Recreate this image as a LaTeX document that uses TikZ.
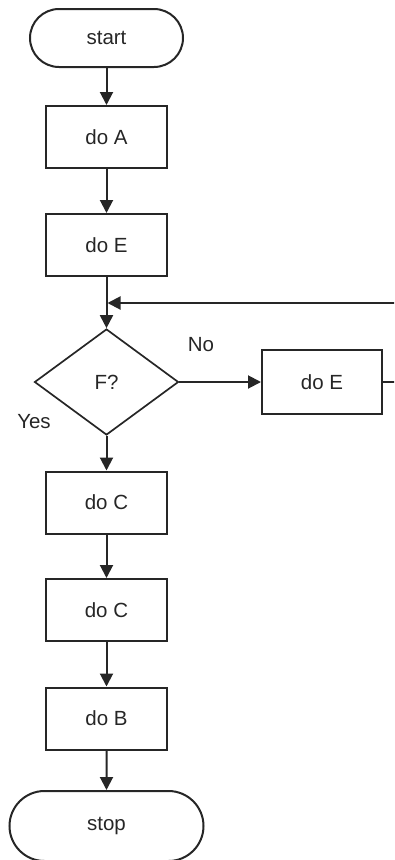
\documentclass[tikz,border=0pt]{standalone}
\usepackage{fontspec}
\setmainfont{Liberation Sans}
\usetikzlibrary{shapes.geometric,shapes.misc,arrows.meta}
\begin{document}
\begin{tikzpicture}[x=1pt,y=-1pt,
  every node/.style={font=\fontsize{20.5}{24}\selectfont, text=black!85},
  proc/.style={draw=black!85, line width=2pt, minimum width=121pt, minimum height=62pt, inner sep=0pt},
  term/.style={draw=black!85, line width=2pt, rounded rectangle, inner sep=0pt},
  decision/.style={draw=black!85, diamond, line width=1.7pt, minimum width=144pt, minimum height=106pt, inner sep=0pt},
  flow/.style={draw=black!85, line width=2pt, -{Triangle[length=13pt,width=13pt]}},
  lbl/.style={inner sep=0pt}]
\useasboundingbox (0,0) rectangle (394,860);
\clip (0,0) rectangle (394,860);

% main column
\node[term, minimum width=153pt, minimum height=58pt] (start) at (106.5,38) {start};
\node[proc] (A)  at (106.5,137)   {do A};
\node[proc] (E)  at (106.5,245)   {do E};
\node[decision] (F) at (106.5,382) {F?};
\node[proc] (C1) at (106.5,502.5) {do C};
\node[proc] (C2) at (106.5,610)   {do C};
\node[proc] (B)  at (106.5,718.5) {do B};
\node[term, minimum width=194pt, minimum height=70pt] (stop) at (106.5,826) {stop};

% side branch
\node[proc, minimum width=120pt, minimum height=64pt] (E2) at (322,382) {do E};

% branch labels
\node[lbl] (no)  at (201,345) {No};
\node[lbl] (yes) at (34,422)  {Yes};

% loop-back corners
\coordinate (rc) at (400,382);
\coordinate (lt) at (107.5,303);

% connectors
\draw[flow] (start) -- (A);
\draw[flow] (A) -- (E);
\draw[flow] (E) -- (F);
\draw[flow] (F) -- (C1);
\draw[flow] (C1) -- (C2);
\draw[flow] (C2) -- (B);
\draw[flow] (B) -- (stop);
\draw[flow] (F.east) -- (E2.west);
\draw[flow] (E2.east) -- (rc) |- (lt);
\end{tikzpicture}
\end{document}
